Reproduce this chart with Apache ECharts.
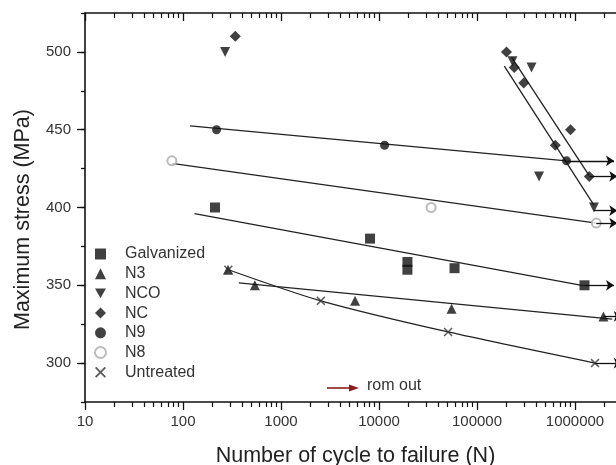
<!DOCTYPE html>
<html>
<head>
<meta charset="utf-8">
<script src="https://cdn.jsdelivr.net/npm/echarts@6/dist/echarts.min.js"></script>
<style>
html, body { margin: 0; padding: 0; background: #fff; }
#chart { width: 616px; height: 465px; }
</style>
</head>
<body>
<div id="chart"></div>
<script>
// points: [cycles to failure N, max stress MPa]
var galvanized = [[212, 400], [8100, 380], [19500, 365], [19500, 360], [59000, 361], [1250000, 350]];
var n3 = [[288, 360], [541, 350], [5700, 340], [55000, 335], [1950000, 330]];
var nco = [[269, 500], [230000, 494], [360000, 490], [430000, 420], [1560000, 400]];
var nc = [[342, 510], [200000, 500], [240000, 490], [300000, 480], [630000, 440], [900000, 450], [1400000, 420]];
var n9 = [[220, 450], [11400, 440], [820000, 430]];
var n8 = [[77, 430], [34000, 400], [1650000, 390]];
var untreated = [[290, 360], [2550, 340], [50700, 320], [1600000, 300]];

// run out arrows: [start N, stress, end N]
var galvanizedRunOut = [[1250000, 350, 2500000]];
var n3RunOut = [[1950000, 330, 3000000]];
var ncoRunOut = [[1560000, 398, 2700000]];
var ncRunOut = [[1400000, 420, 2700000]];
var n9RunOut = [[820000, 430, 2500000]];
var n8RunOut = [[1650000, 390, 2700000]];
var untreatedRunOut = [[1600000, 300, 3000000]];

// fitted lines
var fitN9 = [[118, 452.4], [820000, 430]];
var fitN8 = [[77, 428.3], [1650000, 390]];
var fitGalvanized = [[131, 396], [1250000, 349.7]];
var fitN3 = [[371, 351.6], [2400000, 328.2]];
var fitNC = [[226000, 496.5], [1390000, 420.7]];
var fitNCO = [[190000, 490.8], [1560000, 401.5]];

var seriesNames = ['Galvanized', 'N3', 'NCO', 'NC', 'N9', 'N8', 'Untreated'];
var yMin = 275, yMax = 525;
var minorSteps = [2, 3, 4, 5, 6, 7, 8, 9];

var W = 616, H = 465;
var plotLeft = 85, plotRight = -57, plotTop = 13, plotBottom = 63;
var decadePx = (W - plotLeft - plotRight) / 6;
var pxPerMPa = (H - plotTop - plotBottom) / (yMax - yMin);

var ink = '#111';
var fontFam = '"Liberation Sans", Arial, sans-serif';

var symbols = {
    'Galvanized': 'rect',
    'N3': 'triangle',
    'NCO': 'path://M0,0 L10,0 L5,9 Z',
    'NC': 'diamond',
    'N9': 'circle',
    'N8': 'emptyCircle',
    'Untreated': 'path://M0,1.2 L1.2,0 L5,3.8 L8.8,0 L10,1.2 L6.2,5 L10,8.8 L8.8,10 L5,6.2 L1.2,10 L0,8.8 L3.8,5 Z'
};
var sizes = { 'Galvanized': 10, 'N3': 10, 'NCO': 10, 'NC': 11, 'N9': 9, 'N8': 9, 'Untreated': 9 };

function makeGrid(left, right, top, bottom) {
    return { left: left, right: right, top: top, bottom: bottom, containLabel: false, outerBoundsMode: 'none' };
}

var grids = [makeGrid(plotLeft, plotRight, plotTop, plotBottom)];
var xAxes = [
    {
        gridIndex: 0, type: 'log', logBase: 10, min: 10, max: 10000000, position: 'bottom',
        axisLine: { onZero: false, lineStyle: { color: ink, width: 1.6 } },
        axisTick: { length: 8, lineStyle: { color: ink, width: 1.3 } },
        axisLabel: { color: '#333', fontSize: 15, fontFamily: fontFam, margin: 12,
            formatter: function (v) { return String(Math.round(v)); } },
        splitLine: { show: false },
        name: 'Number of cycle to failure (N)', nameLocation: 'middle', nameGap: 43,
        nameTextStyle: { color: '#222', fontSize: 21.5, fontFamily: fontFam, padding: [0, 47, 0, 0] }
    },
    {
        gridIndex: 0, type: 'log', logBase: 10, min: 10, max: 10000000, position: 'top',
        axisLine: { onZero: false, lineStyle: { color: ink, width: 1.6 } },
        axisTick: { inside: true, length: 8, lineStyle: { color: ink, width: 1.3 } },
        axisLabel: { show: false }, splitLine: { show: false }
    }
];
var yAxes = [
    {
        gridIndex: 0, type: 'value', min: yMin, max: yMax, interval: 25,
        axisLine: { show: true, onZero: false, lineStyle: { color: ink, width: 1.6 } },
        axisTick: { length: 4, lineStyle: { color: ink, width: 1.3 } },
        axisLabel: { show: false }, splitLine: { show: false },
        name: 'Maximum stress (MPa)', nameLocation: 'middle', nameGap: 51,
        nameTextStyle: { color: '#222', fontSize: 21.5, fontFamily: fontFam, padding: [0, 24, 0, 0] }
    }
];

// major y ticks + labels, laid over the main axis
grids.push(makeGrid(plotLeft, plotRight,
    plotTop + (yMax - 500) * pxPerMPa, plotBottom + (300 - yMin) * pxPerMPa));
xAxes.push({ gridIndex: 1, type: 'value', show: false, min: 0, max: 1 });
yAxes.push({
    gridIndex: 1, type: 'value', min: 300, max: 500, interval: 50,
    axisLine: { show: false, onZero: false },
    axisTick: { length: 8, lineStyle: { color: ink, width: 1.3 } },
    axisLabel: { color: '#333', fontSize: 15, fontFamily: fontFam, margin: 14 },
    splitLine: { show: false }
});

// minor log ticks, one shifted grid per multiplier
minorSteps.forEach(function (k) {
    var d = Math.log10(k) * decadePx;
    var gi = grids.length;
    grids.push(makeGrid(plotLeft + d, plotRight - d, plotTop, plotBottom));
    var base = { gridIndex: gi, type: 'value', min: 0, max: 6, interval: 1,
        axisLabel: { show: false }, splitLine: { show: false } };
    xAxes.push(Object.assign({}, base, { position: 'bottom', axisLine: { show: false, onZero: false },
        axisTick: { length: 5, lineStyle: { color: ink, width: 1.2 } } }));
    xAxes.push(Object.assign({}, base, { position: 'top', axisLine: { show: false, onZero: false },
        axisTick: { inside: true, length: 5, lineStyle: { color: ink, width: 1.2 } } }));
    yAxes.push({ gridIndex: gi, type: 'value', show: false });
});

function fitLine(data, smooth) {
    return {
        type: 'line', data: data, xAxisIndex: 0, yAxisIndex: 0, symbol: 'none', smooth: smooth || false,
        silent: true, z: 2, lineStyle: { color: '#222', width: 1.3 }
    };
}

function scatter(name, data, runOut, color) {
    return {
        name: name, type: 'scatter', data: data, xAxisIndex: 0, yAxisIndex: 0,
        symbol: symbols[name], symbolSize: sizes[name], z: 3,
        itemStyle: { color: color || ink, borderColor: color || ink, borderWidth: name === 'N8' ? 1 : 0 },
        markLine: {
            silent: true, symbol: ['none', 'arrow'], symbolSize: 8, animation: false,
            label: { show: false },
            lineStyle: { color: ink, width: 1.3, type: 'solid' },
            data: runOut.map(function (r) { return [{ coord: [r[0], r[1]] }, { coord: [r[2], r[1]] }]; })
        }
    };
}

var option = {
    animation: false,
    backgroundColor: '#fff',
    grid: grids,
    xAxis: xAxes,
    yAxis: yAxes,
    legend: {
        data: seriesNames, orient: 'vertical', left: 89, top: 241, selectedMode: false,
        itemWidth: 11, itemHeight: 11, itemGap: 3.7,
        textStyle: { color: '#333', fontSize: 16, fontFamily: fontFam, padding: [0, 0, 0, 14] }
    },
    graphic: [
        { type: 'line', shape: { x1: 327, y1: 388, x2: 352, y2: 388 }, style: { stroke: '#8b1c1c', lineWidth: 1.6 } },
        { type: 'polygon', shape: { points: [[349, 384.5], [359, 388], [349, 391.5]] }, style: { fill: '#8b1c1c' } },
        { type: 'text', left: 367, top: 378, style: { text: 'rom out', fill: '#333', fontSize: 16, fontFamily: fontFam } }
    ],
    series: [
        fitLine(fitN9), fitLine(fitN8), fitLine(fitGalvanized), fitLine(fitN3),
        fitLine(fitNC), fitLine(fitNCO), fitLine(untreated, 0.25),
        scatter('Galvanized', galvanized, galvanizedRunOut),
        scatter('N3', n3, n3RunOut),
        scatter('NCO', nco, ncoRunOut),
        scatter('NC', nc, ncRunOut),
        scatter('N9', n9, n9RunOut),
        scatter('N8', n8, n8RunOut, '#aaa'),
        scatter('Untreated', untreated, untreatedRunOut, '#333')
    ]
};

var chart = echarts.init(document.getElementById('chart'));
chart.setOption(option);
</script>
</body>
</html>
